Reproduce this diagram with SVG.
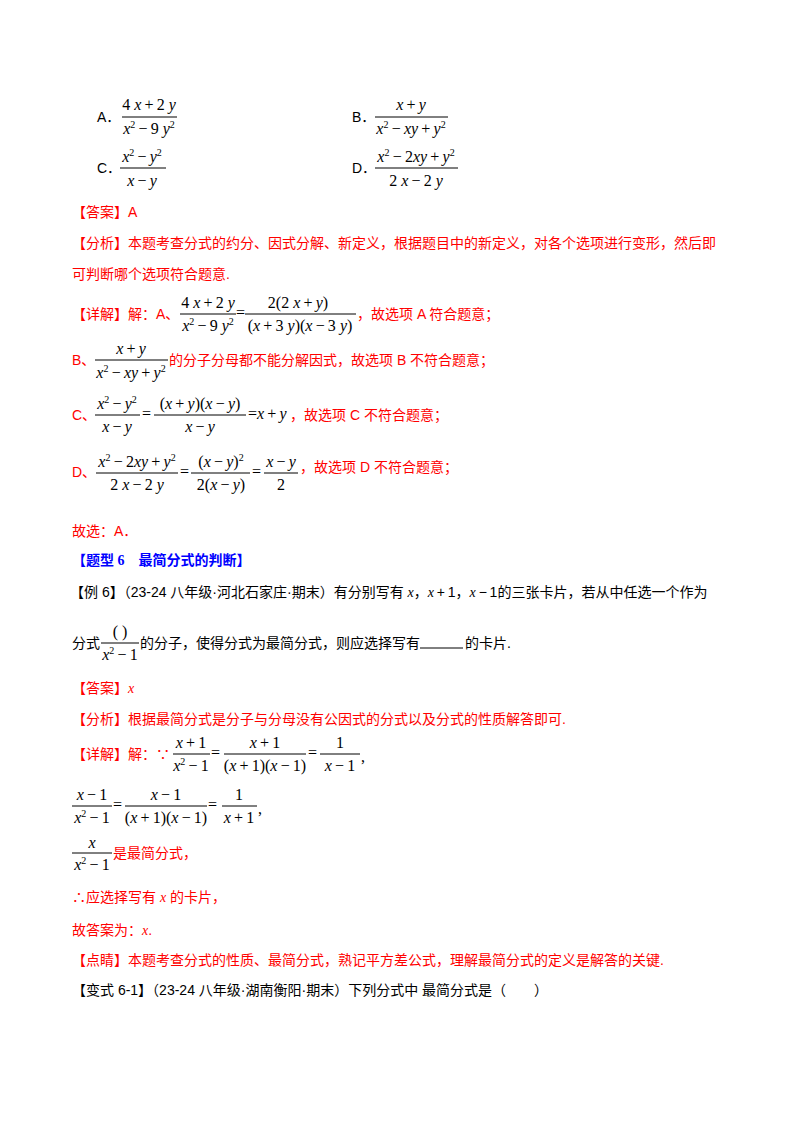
<svg xmlns="http://www.w3.org/2000/svg" width="800" height="1132" viewBox="0 0 800 1132">
<style>
.t{font-family:"Liberation Sans","Noto Sans CJK SC",sans-serif;font-size:14px;fill:#000}
.r{font-family:"Liberation Sans","Noto Sans CJK SC",sans-serif;font-size:14px;fill:#f00}
.b{font-family:"Liberation Serif","Noto Sans CJK SC",serif;font-size:14px;fill:#00f;font-weight:bold}
.m{font-family:"Liberation Serif",serif;font-size:16px;fill:#000;text-anchor:middle}
.ms{font-family:"Liberation Serif",serif;font-size:16px;fill:#000}
.i{font-style:italic}
.s{font-size:10px}
line{stroke:#000;stroke-width:1}
</style>
<rect width="800" height="1132" fill="#fff"/>
<g id="options">
<text class="t" x="97" y="122">A．</text>
<text class="m" x="149" y="110">4 <tspan class="i">x</tspan>&#8201;+&#8201;2 <tspan class="i">y</tspan></text>
<line x1="122" y1="117" x2="177" y2="117"/>
<text class="m" x="149" y="134"><tspan class="i">x</tspan><tspan class="s" dy="-6">2</tspan><tspan dy="6">&#8201;−&#8201;9 </tspan><tspan class="i">y</tspan><tspan class="s" dy="-6">2</tspan></text>
<text class="t" x="352" y="122">B．</text>
<text class="m" x="411" y="110"><tspan class="i">x</tspan>&#8201;+&#8201;<tspan class="i">y</tspan></text>
<line x1="375" y1="117" x2="448" y2="117"/>
<text class="m" x="411" y="134"><tspan class="i">x</tspan><tspan class="s" dy="-6">2</tspan><tspan dy="6">&#8201;−&#8201;</tspan><tspan class="i">xy</tspan>&#8201;+&#8201;<tspan class="i">y</tspan><tspan class="s" dy="-6">2</tspan></text>
<text class="t" x="97" y="173">C．</text>
<text class="m" x="142" y="162"><tspan class="i">x</tspan><tspan class="s" dy="-6">2</tspan><tspan dy="6">&#8201;−&#8201;</tspan><tspan class="i">y</tspan><tspan class="s" dy="-6">2</tspan></text>
<line x1="120" y1="168" x2="166" y2="168"/>
<text class="m" x="142" y="186"><tspan class="i">x</tspan>&#8201;−&#8201;<tspan class="i">y</tspan></text>
<text class="t" x="352" y="173">D．</text>
<text class="m" x="416" y="162"><tspan class="i">x</tspan><tspan class="s" dy="-6">2</tspan><tspan dy="6">&#8201;−&#8201;2</tspan><tspan class="i">xy</tspan>&#8201;+&#8201;<tspan class="i">y</tspan><tspan class="s" dy="-6">2</tspan></text>
<line x1="375" y1="168" x2="458" y2="168"/>
<text class="m" x="416" y="186">2 <tspan class="i">x</tspan>&#8201;−&#8201;2 <tspan class="i">y</tspan></text>
</g>
<g id="answer1">
<text class="r" x="72" y="217">【答案】A</text>
<text class="r" x="72" y="248">【分析】本题考查分式的约分、因式分解、新定义，根据题目中的新定义，对各个选项进行变形，然后即</text>
<text class="r" x="72" y="279">可判断哪个选项符合题意.</text>
<text class="r" x="72" y="319">【详解】解：A、</text>
<text class="m" x="208" y="308">4 <tspan class="i">x</tspan>&#8201;+&#8201;2 <tspan class="i">y</tspan></text>
<line x1="180" y1="314" x2="236" y2="314"/>
<text class="m" x="208" y="331"><tspan class="i">x</tspan><tspan class="s" dy="-6">2</tspan><tspan dy="6">&#8201;−&#8201;9 </tspan><tspan class="i">y</tspan><tspan class="s" dy="-6">2</tspan></text>
<text class="ms" x="236" y="318">=</text>
<text class="m" x="298" y="308">2(2 <tspan class="i">x</tspan>&#8201;+&#8201;<tspan class="i">y</tspan>)</text>
<line x1="245" y1="314" x2="356" y2="314"/>
<text class="m" x="300" y="331">(<tspan class="i">x</tspan>&#8201;+&#8201;3 <tspan class="i">y</tspan>)(<tspan class="i">x</tspan>&#8201;−&#8201;3 <tspan class="i">y</tspan>)</text>
<text class="r" x="357" y="319">，故选项 A 符合题意；</text>
<text class="r" x="72" y="365">B、</text>
<text class="m" x="131" y="354"><tspan class="i">x</tspan>&#8201;+&#8201;<tspan class="i">y</tspan></text>
<line x1="95" y1="360" x2="168" y2="360"/>
<text class="m" x="131" y="378"><tspan class="i">x</tspan><tspan class="s" dy="-6">2</tspan><tspan dy="6">&#8201;−&#8201;</tspan><tspan class="i">xy</tspan>&#8201;+&#8201;<tspan class="i">y</tspan><tspan class="s" dy="-6">2</tspan></text>
<text class="r" x="169" y="365">的分子分母都不能分解因式，故选项 B 不符合题意；</text>
<text class="r" x="72" y="420">C、</text>
<text class="m" x="117" y="409"><tspan class="i">x</tspan><tspan class="s" dy="-6">2</tspan><tspan dy="6">&#8201;−&#8201;</tspan><tspan class="i">y</tspan><tspan class="s" dy="-6">2</tspan></text>
<line x1="95" y1="415" x2="140" y2="415"/>
<text class="m" x="117" y="432"><tspan class="i">x</tspan>&#8201;−&#8201;<tspan class="i">y</tspan></text>
<text class="ms" x="142" y="419">=</text>
<text class="m" x="200" y="409">(<tspan class="i">x</tspan>&#8201;+&#8201;<tspan class="i">y</tspan>)(<tspan class="i">x</tspan>&#8201;−&#8201;<tspan class="i">y</tspan>)</text>
<line x1="154" y1="415" x2="246" y2="415"/>
<text class="m" x="200" y="432"><tspan class="i">x</tspan>&#8201;−&#8201;<tspan class="i">y</tspan></text>
<text class="ms" x="248" y="419">=<tspan class="i">x</tspan>&#8201;+&#8201;<tspan class="i">y</tspan></text>
<text class="r" x="290" y="420">，故选项 C 不符合题意；</text>
<text class="r" x="72" y="477">D、</text>
<text class="m" x="137" y="467"><tspan class="i">x</tspan><tspan class="s" dy="-6">2</tspan><tspan dy="6">&#8201;−&#8201;2</tspan><tspan class="i">xy</tspan>&#8201;+&#8201;<tspan class="i">y</tspan><tspan class="s" dy="-6">2</tspan></text>
<line x1="96" y1="473" x2="178" y2="473"/>
<text class="m" x="137" y="490">2 <tspan class="i">x</tspan>&#8201;−&#8201;2 <tspan class="i">y</tspan></text>
<text class="ms" x="180" y="477">=</text>
<text class="m" x="221" y="467">(<tspan class="i">x</tspan>&#8201;−&#8201;<tspan class="i">y</tspan>)<tspan class="s" dy="-6">2</tspan></text>
<line x1="191" y1="473" x2="250" y2="473"/>
<text class="m" x="221" y="490">2(<tspan class="i">x</tspan>&#8201;−&#8201;<tspan class="i">y</tspan>)</text>
<text class="ms" x="252" y="477">=</text>
<text class="m" x="281" y="467"><tspan class="i">x</tspan>&#8201;−&#8201;<tspan class="i">y</tspan></text>
<line x1="264" y1="473" x2="298" y2="473"/>
<text class="m" x="281" y="490">2</text>
<text class="r" x="300" y="472">，故选项 D 不符合题意；</text>
<text class="r" x="72" y="536">故选：A．</text>
</g>
<g id="example6">
<text class="b" x="72" y="565">【题型 6　最简分式的判断】</text>
<text class="t" x="70" y="597">【例 6】（23-24 八年级·河北石家庄·期末）有分别写有 <tspan class="i" font-family="Liberation Serif">x</tspan>，<tspan font-family="Liberation Serif" class="i">x</tspan>&#8201;+&#8201;1，<tspan font-family="Liberation Serif" class="i">x</tspan>&#8201;−&#8201;1的三张卡片，若从中任选一个作为</text>
<text class="t" x="72" y="648">分式</text>
<text class="m" x="120" y="637">( )</text>
<line x1="101" y1="643" x2="139" y2="643"/>
<text class="m" x="120" y="660"><tspan class="i">x</tspan><tspan class="s" dy="-6">2</tspan><tspan dy="6">&#8201;−&#8201;1</tspan></text>
<text class="t" x="140" y="648">的分子，使得分式为最简分式，则应选择写有</text>
<line x1="420" y1="648" x2="463" y2="648"/>
<text class="t" x="465" y="648">的卡片.</text>
<text class="r" x="72" y="693">【答案】<tspan class="i" font-family="Liberation Serif">x</tspan></text>
<text class="r" x="72" y="724">【分析】根据最简分式是分子与分母没有公因式的分式以及分式的性质解答即可.</text>
<text class="r" x="72" y="759">【详解】解：∵</text>
<text class="m" x="191" y="748"><tspan class="i">x</tspan>&#8201;+&#8201;1</text>
<line x1="173" y1="754" x2="210" y2="754"/>
<text class="m" x="191" y="771"><tspan class="i">x</tspan><tspan class="s" dy="-6">2</tspan><tspan dy="6">&#8201;−&#8201;1</tspan></text>
<text class="ms" x="211" y="758">=</text>
<text class="m" x="265" y="748"><tspan class="i">x</tspan>&#8201;+&#8201;1</text>
<line x1="224" y1="754" x2="306" y2="754"/>
<text class="m" x="265" y="771">(<tspan class="i">x</tspan>&#8201;+&#8201;1)(<tspan class="i">x</tspan>&#8201;−&#8201;1)</text>
<text class="ms" x="308" y="758">=</text>
<text class="m" x="340" y="748">1</text>
<line x1="320" y1="754" x2="360" y2="754"/>
<text class="m" x="340" y="771"><tspan class="i">x</tspan>&#8201;−&#8201;1</text>
<text class="ms" x="361" y="762">,</text>
<text class="m" x="92" y="800"><tspan class="i">x</tspan>&#8201;−&#8201;1</text>
<line x1="72" y1="806" x2="112" y2="806"/>
<text class="m" x="92" y="823"><tspan class="i">x</tspan><tspan class="s" dy="-6">2</tspan><tspan dy="6">&#8201;−&#8201;1</tspan></text>
<text class="ms" x="113" y="810">=</text>
<text class="m" x="166" y="800"><tspan class="i">x</tspan>&#8201;−&#8201;1</text>
<line x1="125" y1="806" x2="207" y2="806"/>
<text class="m" x="166" y="823">(<tspan class="i">x</tspan>&#8201;+&#8201;1)(<tspan class="i">x</tspan>&#8201;−&#8201;1)</text>
<text class="ms" x="208" y="810">=</text>
<text class="m" x="239" y="800">1</text>
<line x1="222" y1="806" x2="257" y2="806"/>
<text class="m" x="239" y="823"><tspan class="i">x</tspan>&#8201;+&#8201;1</text>
<text class="ms" x="258" y="814">,</text>
<text class="m" x="92" y="848"><tspan class="i">x</tspan></text>
<line x1="72" y1="853" x2="112" y2="853"/>
<text class="m" x="92" y="870"><tspan class="i">x</tspan><tspan class="s" dy="-6">2</tspan><tspan dy="6">&#8201;−&#8201;1</tspan></text>
<text class="r" x="113" y="858">是最简分式，</text>
<text class="r" x="72" y="902">∴应选择写有 <tspan class="i" font-family="Liberation Serif">x</tspan> 的卡片，</text>
<text class="r" x="72" y="935">故答案为：<tspan class="i" font-family="Liberation Serif">x</tspan>.</text>
<text class="r" x="72" y="965">【点睛】本题考查分式的性质、最简分式，熟记平方差公式，理解最简分式的定义是解答的关键.</text>
<text class="t" x="72" y="995">【变式 6-1】（23-24 八年级·湖南衡阳·期末）下列分式中 最简分式是（　　）</text>
</g>
</svg>
